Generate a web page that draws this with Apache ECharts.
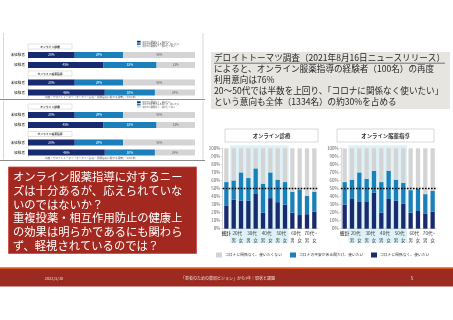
<!DOCTYPE html>
<html><head><meta charset="utf-8">
<script src="https://cdn.jsdelivr.net/npm/echarts@6/dist/echarts.min.js"></script>
<style>html,body{margin:0;padding:0;background:#fff}#c{width:453px;height:320px}</style>
</head><body><div id="c"></div>
<script>
// ---------- data ----------
const categories = ['総計','20代男','20代女','30代男','30代女','40代男','40代女','50代男','50代女','60代男','60代女','70代~男','70代~女'];
const ageLabels = ['総計','20代','','30代','','40代','','50代','','60代','','70代~',''];
const sexLabels = ['','男','女','男','女','男','女','男','女','男','女','男','女'];
const seriesNames = ['コロナに関係なく、使いたい','コロナの不安がある間だけ、使いたい','コロナに関係なく、使いたくない'];
const chartTitles = ['オンライン診療','オンライン服薬指導'];

const clinicDark  = [29,36,35,35,44,20,38,33,30,20,17,18,21];
const clinicMid   = [29,24,35,28,31,36,32,28,28,26,32,23,25];
const clinicLight = [42,40,30,37,25,44,30,39,42,54,51,59,54];

const guidanceDark  = [30,37,34,34,45,20,37,35,31,20,22,19,21];
const guidanceMid   = [28,24,36,28,27,38,35,26,26,28,28,24,26];
const guidanceLight = [42,39,30,38,28,42,28,39,43,52,50,57,53];

const surveyRows = ['未経験者','経験者'];
const surveyClinicDark  = [28,45];
const surveyClinicMid   = [29,32];
const surveyClinicLight = [43,23];
const surveyGuidanceDark  = [28,46];
const surveyGuidanceMid   = [29,30];
const surveyGuidanceLight = [43,24];

const infoLines = [
  'デロイトトーマツ調査（2021年8月16日ニュースリリース）',
  'によると、オンライン服薬指導の経験者（100名）の再度',
  '利用意向は76%',
  '20～50代では半数を上回り、「コロナに関係なく使いたい」',
  'という意向も全体（1334名）の約30%を占める'
];
const redLines = [
  'オンライン服薬指導に対するニー',
  'ズは十分あるが、応えられていな',
  'いのではないか？',
  '重複投薬・相互作用防止の健康上',
  'の効果は明らかであるにも関わら',
  'ず、軽視されているのでは？'
];
const footerDate = '2022/3/10';
const footerTitle = '「患者のための薬局ビジョン」から7年｜現状と課題';
const footerPage = '5';
const sourceNote = '出典：デロイトトーマツ「オンライン診療・服薬指導に関する調査」（2021年）';

// ---------- styles ----------
const FONT = '"Noto Sans CJK JP","Noto Sans",sans-serif';
const DARK = '#182b6e', MID = '#1b80b9', LIGHT = '#d4d4d4';
const segColors = [DARK, MID, LIGHT];

const chart = echarts.init(document.getElementById('c'), null, {renderer:'canvas', width:453, height:320});

const grids = [
  {left:222.7, top:148.3, width:95.3, height:80.4},
  {left:341,   top:148.3, width:95.3, height:80.4},
  {left:28, top:50,    width:167, height:20},
  {left:28, top:77.5,  width:167, height:20},
  {left:28, top:110,   width:167, height:20},
  {left:28, top:137.5, width:167, height:20}
];

const xAxis = [], yAxis = [], series = [];
[0,1].forEach(g => {
  xAxis.push({type:'category', gridIndex:g, data:categories,
    axisLine:{lineStyle:{color:'#bfbfbf', width:0.6}}, axisTick:{show:false},
    axisLabel:{interval:0, margin:2, color:'#404040',
      formatter:(v,i)=> i===0 ? '{a|'+ageLabels[i]+'}' : (ageLabels[i] ? '{s|'+ageLabels[i]+'}' : ''),
      rich:{a:{fontSize:4.6, fontFamily:FONT, color:'#404040', fontWeight:'bold'},
            s:{fontSize:4.6, fontFamily:FONT, color:'#404040', padding:[0,0,0,7.3]}}}});
  xAxis.push({type:'category', gridIndex:g, data:categories, position:'bottom', offset:7,
    axisLine:{show:false}, axisTick:{show:false},
    axisLabel:{interval:0, margin:2, fontSize:4.4, fontFamily:FONT, color:'#404040',
      formatter:(v,i)=>sexLabels[i]}});
  yAxis.push({type:'value', gridIndex:g, min:0, max:100, interval:10,
    axisLine:{show:true, lineStyle:{color:'#bfbfbf', width:0.6}},
    axisTick:{show:true, length:1.5, lineStyle:{color:'#bfbfbf', width:0.6}},
    splitLine:{show:false},
    axisLabel:{formatter:'{value}%', fontSize:4.4, margin:2.5, fontFamily:FONT, color:'#595959'}});
});
[2,3,4,5].forEach(g => {
  xAxis.push({type:'value', gridIndex:g, min:0, max:100, show:false});
  yAxis.push({type:'category', gridIndex:g, data:surveyRows, inverse:true,
    axisLine:{show:true, lineStyle:{color:'#c8c8c8', width:0.5}}, axisTick:{show:false},
    axisLabel:{fontSize:3.6, fontFamily:FONT, color:'#333', margin:3}});
});

const rightSets = [[clinicDark, clinicMid, clinicLight],[guidanceDark, guidanceMid, guidanceLight]];
rightSets.forEach((set,k) => {
  set.forEach((arr,j) => {
    const s = {type:'bar', name:seriesNames[j], xAxisIndex:k*2, yAxisIndex:k, stack:'r'+k,
      data:arr, barWidth:4.3, itemStyle:{color:segColors[j]}, z:5};
    if (j === 2) {
      s.markLine = {silent:true, symbol:'none', label:{show:false}, z:6,
        lineStyle:{type:[1.6,1.4], color:'#000', width:1.4}, data:[{yAxis:50}]};
    }
    series.push(s);
  });
});

const leftSets = [
  [surveyClinicDark, surveyClinicMid, surveyClinicLight],
  [surveyGuidanceDark, surveyGuidanceMid, surveyGuidanceLight],
  [surveyClinicDark, surveyClinicMid, surveyClinicLight],
  [surveyGuidanceDark, surveyGuidanceMid, surveyGuidanceLight]
];
leftSets.forEach((set,k) => {
  set.forEach((arr,j) => {
    series.push({type:'bar', name:seriesNames[j], xAxisIndex:4+k, yAxisIndex:2+k, stack:'l'+k,
      data:arr, barWidth:6.2, itemStyle:{color:segColors[j]},
      label:{show:true, position:'inside', formatter:'{c}%', fontSize:3, fontFamily:FONT,
        color: j===2 ? '#666' : '#fff'}});
  });
});

const legendPos = [[216,2],[290,1],[371,0]];
const legend = legendPos.map(p => ({
  data:[seriesNames[p[1]]], left:p[0], top:252.5, padding:0, itemWidth:6, itemHeight:5, itemGap:0,
  icon:'rect', selectedMode:false, textStyle:{fontSize:3.8, fontFamily:FONT, color:'#333', padding:[0,0,0,-2]}
}));

// ---------- static slide graphics ----------
function txt(text, x, y, font, fill, align, extra){
  return Object.assign({type:'text', silent:true, z:10,
    style:{text:text, x:x, y:y, font:font, fill:fill, textAlign:align||'left', textVerticalAlign:'middle'}}, extra||{});
}
function rect(x,y,w,h,fill,stroke,lw,z){
  return {type:'rect', silent:true, z:z==null?1:z, shape:{x:x,y:y,width:w,height:h},
    style:{fill:fill, stroke:stroke||null, lineWidth:lw||0}};
}
function line(x1,y1,x2,y2,color,w,z){
  return {type:'line', silent:true, z:z==null?5:z, shape:{x1:x1,y1:y1,x2:x2,y2:y2}, style:{stroke:color, lineWidth:w}};
}

const graphic = [];
// footer
graphic.push(rect(0,267.3,453,1.6,'#e2571f'));
graphic.push(rect(0,268.9,453,17.6,'#9b2b20'));
graphic.push(txt(footerDate, 54, 278, '4px '+FONT, '#f0dcd8', 'center'));
graphic.push(txt(footerTitle, 228, 278, '4px '+FONT, '#f0dcd8', 'center'));
graphic.push(txt(footerPage, 412, 278, '4.5px '+FONT, '#f0dcd8', 'center'));

// red box
graphic.push(rect(8.5,167,188,86.5,'#a3281f','#c8493f',0.8));
redLines.forEach((l,i) => graphic.push(txt(l, 13, 177 + i*13.7, '11.3px '+FONT, '#ffffff', 'left')));

// info box
graphic.push(rect(211,52,239,57,'#e7e5e0'));
infoLines.forEach((l,i) => graphic.push(txt(l, 214, 58 + i*11, '8.6px '+FONT, '#262626', 'left')));
const mc = document.createElement('canvas').getContext('2d');
mc.font = '8.6px '+FONT;
const ulw = mc.measureText(infoLines[0]).width;
graphic.push(line(214, 63.2, 214+ulw, 63.2, '#262626', 0.6, 10));

// right chart titles
[[225,93],[337,97]].forEach((b,i) => {
  graphic.push(rect(b[0],129,b[1],13,'#ffffff','#bfbfbf',0.6,1));
  graphic.push(txt(chartTitles[i], b[0]+b[1]/2, 135.5, 'bold 5.4px '+FONT, '#333', 'center'));
});

// left screenshot panels
[[33,99.5],[100.5,160.5]].forEach(p => {
  graphic.push(line(3.5,p[0],3.5,p[1]-1,'#bdbdbd',0.6,2));
  graphic.push(line(203,p[0],203,p[1]-1,'#bdbdbd',0.6,2));
  graphic.push(line(0,p[1],205,p[1],'#8c8c8c',1.2,2));
});
[[44,71,40.8],[104,131.5,101.3]].forEach(p => {
  [p[0],p[1]].forEach((y,i) => {
    graphic.push(rect(28,y,44,5,'#ffffff','#c8c8c8',0.5,2));
    graphic.push(txt(chartTitles[i], 50, y+2.5, 'bold 2.8px '+FONT, '#333', 'center'));
  });
  [0,1,2].forEach(j => {
    graphic.push(rect(137,p[2]+j*2.4,3.6,1.8,segColors[j],null,0,2));
    graphic.push(txt(seriesNames[j], 142, p[2]+j*2.4+0.9, '2.2px '+FONT, '#444', 'left'));
  });
});
graphic.push(txt(sourceNote, 45, 97.5, '2.6px '+FONT, '#666', 'left'));
graphic.push(txt(sourceNote, 45, 158.3, '2.6px '+FONT, '#666', 'left'));

chart.setOption({
  animation:false,
  backgroundColor:'#ffffff',
  textStyle:{fontFamily:FONT},
  grid:grids, xAxis:xAxis, yAxis:yAxis, series:series, legend:legend, graphic:graphic
});

// highlight bands behind 20代〜50代 (computed from the axes)
const hl = [];
[0,1].forEach(g => {
  const a = chart.convertToPixel({gridIndex:g}, [categories[1], 100]);
  const b = chart.convertToPixel({gridIndex:g}, [categories[8], 0]);
  const c2 = chart.convertToPixel({gridIndex:g}, [categories[2], 0]);
  const bw = c2[0] - a[0];
  hl.push(rect(a[0]-bw/2, a[1]-3, (b[0]-a[0])+bw, (b[1]-a[1])+17, '#dcf2f8', null, 0, -10));
});
chart.setOption({graphic: graphic.concat(hl)});
</script></body></html>
